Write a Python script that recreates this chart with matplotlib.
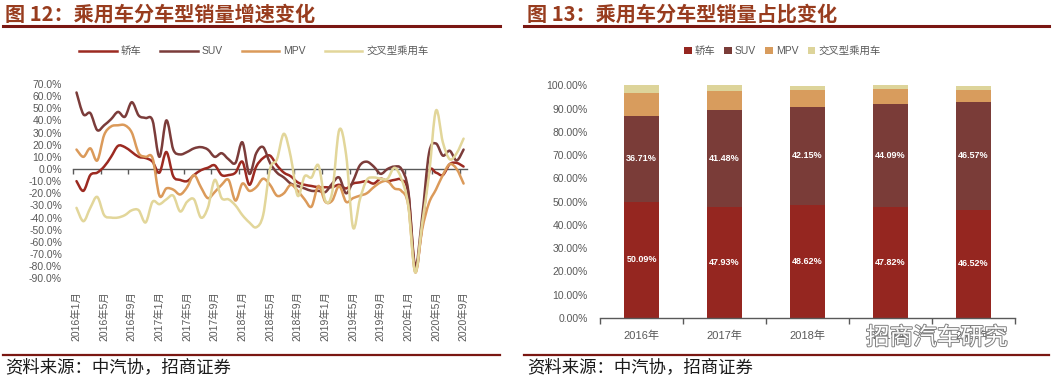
import numpy as np
import matplotlib
matplotlib.use('Agg')
import matplotlib.pyplot as plt
from matplotlib.path import Path
from matplotlib.patches import PathPatch, Patch
from matplotlib.lines import Line2D
import matplotlib.patheffects as pe

plt.rcParams['font.family'] = ['Liberation Sans', 'Noto Sans CJK SC', 'DejaVu Sans']

# ---- 图12 月度增速 (%), 2016年1月 - 2020年9月 ----
series_names = ['轿车', 'SUV', 'MPV', '交叉型乘用车']
sedan = [-10, -18, -5, -3, 2, 10, 19, 18, 14, 10,
         9, 6, -3, 14, -6, -9, -10, -5, -1, 1,
         3, -5, -5, -3, 6, -13, 2, 9, 11, 3,
         -3, -6, -11, -13, -14, -15, -15, -15, -13, -16,
         -12, -11, -10, -12, -8, -10, -9, -9, -20, -83,
         -47, -3, -3, -5, 4, 5, 2]
suv = [63, 45, 46, 32, 36, 41, 47, 43, 55, 44,
       42, 40, 10, 40, 16, 12, 14, 17, 18, 16,
       10, 13, 8, 5, 22, -4, 13, 18, 5, -3,
       -7, -12, -14, -16, -18, -18, -19, -12, -7, -20,
       -10, 3, 6, 2, -4, 0, 2, 0, -18, -80,
       -40, 13, 21, 11, 15, 7, 16]
mpv = [16, 10, 17, 7, 28, 35, 36, 36, 30, 13,
       10, 9, -22, -16, -17, -21, -15, -5, -15, -24,
       -19, -13, -9, -26, -12, -18, -15, -8, -13, -22,
       -20, -13, -18, -25, -31, -14, -27, -26, -14, -27,
       -24, -22, -20, -15, -11, -10, -16, -18, -30, -85,
       -50, -28, -17, -5, 4, 0, -12]
crossover = [-32, -43, -32, -23, -38, -40, -40, -38, -34, -34,
             -44, -27, -29, -25, -22, -35, -27, -25, -40, -32,
             -9, -24, -25, -30, -38, -44, -48, -38, 0, 8,
             29, 10, -22, -6, -7, 3, -26, -19, 32, 12,
             -48, -25, -9, -7, -8, -8, 1, -8, -30, -85,
             -45, -5, 48, 22, 8, 13, 25]
tick_labels = ['2016年1月', '2016年5月', '2016年9月', '2017年1月', '2017年5月',
               '2017年9月', '2018年1月', '2018年5月', '2018年9月', '2019年1月',
               '2019年5月', '2019年9月', '2020年1月', '2020年5月', '2020年9月']
line_colors = ['#9C2A21', '#7B3C3A', '#DB9A5A', '#E2D69A']

# ---- 图13 年度占比 (%) ----
years = ['2016年', '2017年', '2018年', '2019年', '2020年']
sedan_share = [50.09, 47.93, 48.62, 47.82, 46.52]
suv_share = [36.71, 41.48, 42.15, 44.09, 46.57]
mpv_share = [10.1, 8.1, 7.2, 6.4, 4.9]
cross_share = [3.1, 2.5, 2.0, 1.7, 2.0]
bar_colors = ['#952620', '#7A3C38', '#D89C5D', '#DDD49A']

gray = '#595959'


def smooth_path(xs, ys):
    # excel-like smoothed line (cubic bezier through every point)
    pts = np.column_stack([xs, ys]).astype(float)
    n = len(pts)
    verts = [pts[0]]
    codes = [Path.MOVETO]
    for k in range(n - 1):
        p0 = pts[k - 1] if k > 0 else pts[k]
        p1, p2 = pts[k], pts[k + 1]
        p3 = pts[k + 2] if k + 2 < n else pts[k + 1]
        verts += [p1 + (p2 - p0) / 6, p2 - (p3 - p1) / 6, p2]
        codes += [Path.CURVE4] * 3
    return Path(verts, codes)


fig = plt.figure(figsize=(10.54, 3.84), dpi=100)

# ================= left chart =================
ax1 = fig.add_axes([0.0693, 0.2753, 0.3738, 0.5060])
n = len(sedan)
x = np.arange(n)
for vals, col in zip([sedan, suv, mpv, crossover], line_colors):
    ax1.add_patch(PathPatch(smooth_path(x, vals), fill=False, edgecolor=col,
                            lw=1.8, capstyle='round', joinstyle='round'))
ax1.set_xlim(-0.5, n - 0.5)
ax1.set_ylim(-90, 70)
yt = np.arange(-90, 71, 10)
ax1.set_yticks(yt)
ax1.set_yticklabels([f'{v:.1f}%' for v in yt])
ax1.set_xticks(np.arange(0, n, 4))
ax1.set_xticklabels(tick_labels, rotation=90)
for s in ax1.spines.values():
    s.set_visible(False)
ax1.tick_params(axis='y', length=0, pad=8, labelcolor=gray, labelsize=7.5)
ax1.tick_params(axis='x', length=0, pad=9, labelcolor=gray, labelsize=7.5)

zero = ax1.secondary_xaxis(90 / 160)
zero.set_alignment('bottom')
zero.spines['bottom'].set_color(gray)
zero.spines['bottom'].set_linewidth(1.0)
zero.set_xticks(np.arange(-0.5, n, 4))
zero.set_xticklabels([])
zero.tick_params(axis='x', direction='out', length=3.5, width=1.0, color=gray)

h1 = [Line2D([], [], color=c, lw=1.8) for c in line_colors]
fig.legend(h1, series_names, loc='center', bbox_to_anchor=(0.241, 0.867), ncol=4,
           frameon=False, fontsize=7.5, handlelength=3.6, handletextpad=0.4,
           columnspacing=1.8, labelcolor=gray)

# ================= right chart =================
ax2 = fig.add_axes([0.5693, 0.1719, 0.3937, 0.6055])
xb = np.arange(len(years))
bottom = np.zeros(len(years))
for i, (vals, col) in enumerate(zip([sedan_share, suv_share, mpv_share, cross_share], bar_colors)):
    bars = ax2.bar(xb, vals, 0.42, bottom=bottom, color=col, linewidth=0)
    if i < 2:
        ax2.bar_label(bars, labels=[f'{v:.2f}%' for v in vals], label_type='center',
                      color='white', fontsize=6.5, fontweight='bold')
    bottom += np.array(vals)
ax2.set_xlim(-0.5, len(years) - 0.5)
ax2.set_ylim(0, 100)
yt2 = np.arange(0, 101, 10)
ax2.set_yticks(yt2)
ax2.set_yticklabels([f'{v:.2f}%' for v in yt2])
ax2.set_xticks(xb)
ax2.set_xticklabels(years)
ax2.set_xticks(np.arange(-0.5, len(years), 1), minor=True)
for k in ['top', 'right', 'left']:
    ax2.spines[k].set_visible(False)
ax2.spines['bottom'].set_color(gray)
ax2.spines['bottom'].set_linewidth(1.0)
ax2.tick_params(axis='y', length=0, pad=9, labelcolor=gray, labelsize=7.5)
ax2.tick_params(axis='x', which='major', length=0, pad=9, labelcolor=gray, labelsize=8)
ax2.tick_params(axis='x', which='minor', length=4, width=1.0, color=gray)

h2 = [Patch(facecolor=c) for c in bar_colors]
fig.legend(h2, series_names, loc='center', bbox_to_anchor=(0.742, 0.867), ncol=4,
           frameon=False, fontsize=7.5, handlelength=0.75, handleheight=0.75,
           handletextpad=0.25, columnspacing=0.9, labelcolor=gray)

# ================= titles, rules, source =================
W, H = 1054, 384
title_col = '#983C1E'
rule_col = '#7A1712'
fig.text(5 / W, 1 - 14 / H, '图 12：乘用车分车型销量增速变化', fontsize=14.5, fontweight='heavy',
         color=title_col, va='center', family=['Noto Sans CJK SC'])
fig.text(527 / W, 1 - 14 / H, '图 13：乘用车分车型销量占比变化', fontsize=14.5, fontweight='heavy',
         color=title_col, va='center', family=['Noto Sans CJK SC'])
for x0, x1 in [(3, 500), (524, 1049)]:
    fig.add_artist(Line2D([x0 / W, x1 / W], [1 - 26 / H] * 2, color=rule_col, lw=2.2))
    fig.add_artist(Line2D([x0 / W, x1 / W], [1 - 355 / H] * 2, color=rule_col, lw=1.6))
for x0 in [5, 527]:
    fig.text(x0 / W, 1 - 367 / H, '资料来源：中汽协，招商证券', fontsize=12.5, color='#1a1a1a',
             va='center', family=['Noto Sans CJK SC'])

# watermark sits over the last x labels, as in the source image
fig.text(866 / W, 1 - 338 / H, '招商汽车研究', fontsize=17, color='white', va='center',
         family=['Noto Sans CJK SC'],
         path_effects=[pe.withStroke(linewidth=1.4, foreground='#808080')])

fig.savefig('out.png', dpi=100)
